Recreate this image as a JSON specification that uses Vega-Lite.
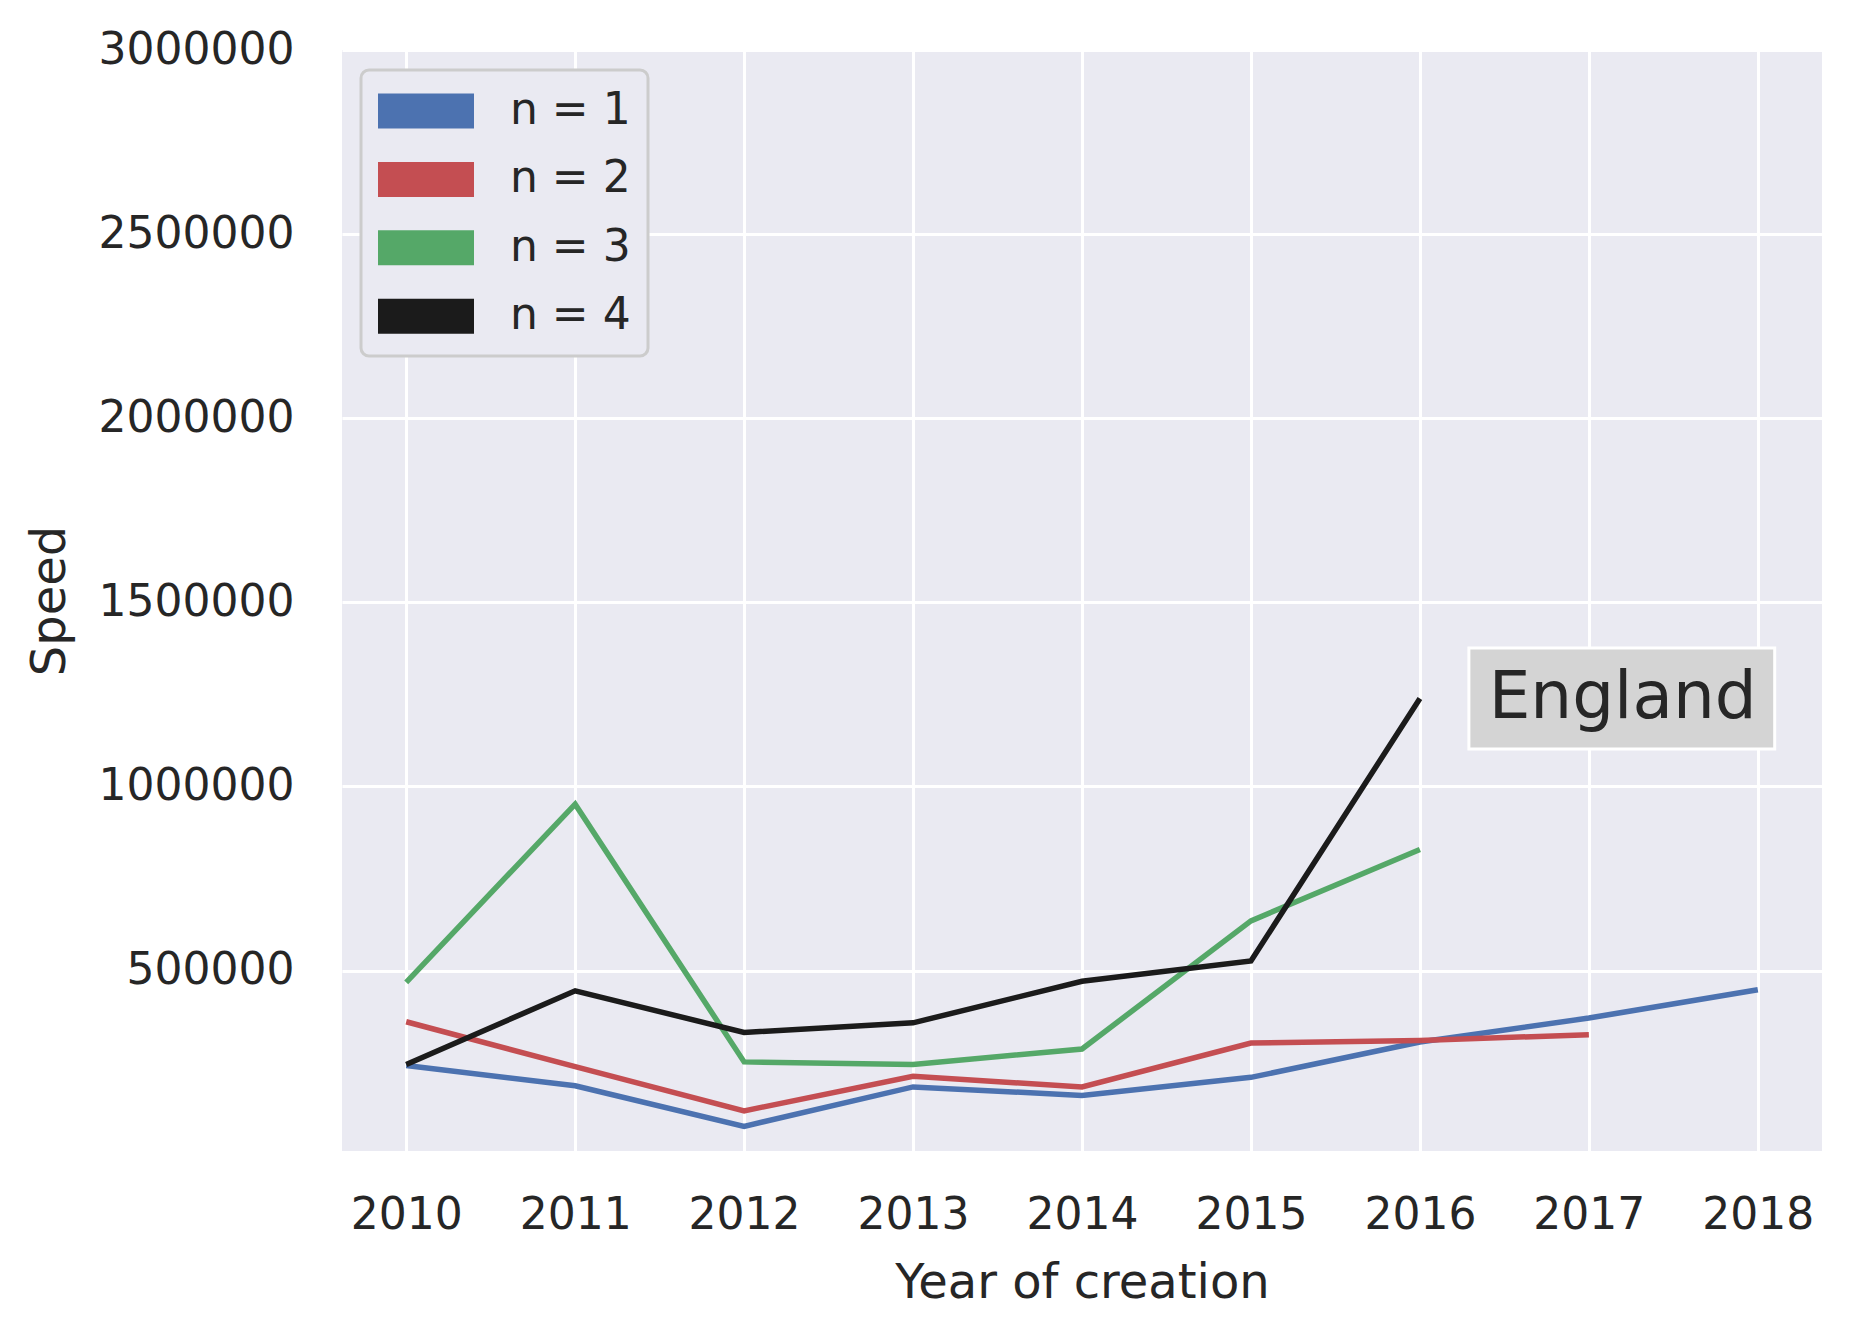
{
  "$schema": "https://vega.github.io/schema/vega-lite/v6.json",
  "autosize": "none",
  "width": 1480,
  "height": 1101,
  "padding": {"left": 342, "top": 50, "right": 40, "bottom": 184},
  "background": "white",
  "datasets": {
    "speed": [
      {"year": 2010, "n": "n = 1", "speed": 242000},
      {"year": 2011, "n": "n = 1", "speed": 187000},
      {"year": 2012, "n": "n = 1", "speed": 77000},
      {"year": 2013, "n": "n = 1", "speed": 184000},
      {"year": 2014, "n": "n = 1", "speed": 161000},
      {"year": 2015, "n": "n = 1", "speed": 210000},
      {"year": 2016, "n": "n = 1", "speed": 306000},
      {"year": 2017, "n": "n = 1", "speed": 371000},
      {"year": 2018, "n": "n = 1", "speed": 448000},
      {"year": 2010, "n": "n = 2", "speed": 361000},
      {"year": 2011, "n": "n = 2", "speed": 239000},
      {"year": 2012, "n": "n = 2", "speed": 119000},
      {"year": 2013, "n": "n = 2", "speed": 213000},
      {"year": 2014, "n": "n = 2", "speed": 184000},
      {"year": 2015, "n": "n = 2", "speed": 303000},
      {"year": 2016, "n": "n = 2", "speed": 310000},
      {"year": 2017, "n": "n = 2", "speed": 326000},
      {"year": 2010, "n": "n = 3", "speed": 468000},
      {"year": 2011, "n": "n = 3", "speed": 952000},
      {"year": 2012, "n": "n = 3", "speed": 252000},
      {"year": 2013, "n": "n = 3", "speed": 245000},
      {"year": 2014, "n": "n = 3", "speed": 287000},
      {"year": 2015, "n": "n = 3", "speed": 635000},
      {"year": 2016, "n": "n = 3", "speed": 829000},
      {"year": 2010, "n": "n = 4", "speed": 245000},
      {"year": 2011, "n": "n = 4", "speed": 445000},
      {"year": 2012, "n": "n = 4", "speed": 332000},
      {"year": 2013, "n": "n = 4", "speed": 358000},
      {"year": 2014, "n": "n = 4", "speed": 471000},
      {"year": 2015, "n": "n = 4", "speed": 526000},
      {"year": 2016, "n": "n = 4", "speed": 1239000}
    ],
    "label": [
      {"text": "England", "x": 2017.2, "y": 1238900, "x1": 2016.29, "x2": 2018.1, "y1": 1101700, "y2": 1376000}
    ]
  },
  "layer": [
    {
      "data": {"name": "speed"},
      "mark": {"type": "line", "strokeWidth": 5.5},
      "encoding": {
        "x": {
          "field": "year",
          "type": "quantitative",
          "title": "Year of creation",
          "scale": {"domain": [2009.62, 2018.38], "nice": false, "zero": false},
          "axis": {
            "values": [2010, 2011, 2012, 2013, 2014, 2015, 2016, 2017, 2018],
            "format": "d",
            "labelPadding": 42,
            "titlePadding": 22
          }
        },
        "y": {
          "field": "speed",
          "type": "quantitative",
          "title": "Speed",
          "scale": {"domain": [10000, 3000000], "nice": false, "zero": false},
          "axis": {
            "values": [500000, 1000000, 1500000, 2000000, 2500000, 3000000],
            "format": "d",
            "labelPadding": 48,
            "labelLimit": 400,
            "titleX": -268
          }
        },
        "color": {
          "field": "n",
          "type": "nominal",
          "title": null,
          "scale": {
            "domain": ["n = 1", "n = 2", "n = 3", "n = 4"],
            "range": ["#4C72B0", "#C44E52", "#55A868", "#1B1B1B"]
          },
          "legend": {
            "orient": "none",
            "legendX": 19,
            "legendY": 20,
            "symbolType": "M-2,-0.73L2,-0.73L2,0.73L-2,0.73Z",
            "symbolSize": 2304,
            "symbolOffset": 24,
            "symbolStrokeWidth": 0,
            "labelOffset": 60,
            "labelFontSize": 44,
            "labelFont": "DejaVu Sans",
            "labelColor": "#262626",
            "rowPadding": 22.4,
            "padding": 17,
            "fillColor": "#EAEAF2",
            "strokeColor": "#CCCCCC",
            "cornerRadius": 8,
            "encode": {
              "legend": {"update": {"strokeWidth": {"value": 3}}},
              "symbols": {
                "update": {
                  "fill": {"scale": "color", "field": "value"},
                  "stroke": {"value": "transparent"},
                  "strokeWidth": {"value": 0}
                }
              }
            }
          }
        }
      }
    },
    {
      "data": {"name": "label"},
      "mark": {"type": "rect", "fill": "#D4D4D4", "stroke": "white", "strokeWidth": 3},
      "encoding": {
        "x": {"field": "x1", "type": "quantitative"},
        "x2": {"field": "x2"},
        "y": {"field": "y1", "type": "quantitative"},
        "y2": {"field": "y2"}
      }
    },
    {
      "data": {"name": "label"},
      "mark": {"type": "text", "fontSize": 66, "font": "DejaVu Sans", "color": "#262626", "align": "center", "baseline": "middle"},
      "encoding": {
        "x": {"field": "x", "type": "quantitative"},
        "y": {"field": "y", "type": "quantitative"},
        "text": {"field": "text"}
      }
    }
  ],
  "config": {
    "font": "DejaVu Sans",
    "view": {"fill": "#EAEAF2", "stroke": null},
    "axis": {
      "domain": false,
      "ticks": false,
      "grid": true,
      "gridColor": "white",
      "gridWidth": 3,
      "labelFont": "DejaVu Sans",
      "labelFontSize": 44,
      "labelColor": "#262626",
      "titleFont": "DejaVu Sans",
      "titleFontSize": 48,
      "titleFontWeight": "normal",
      "titleColor": "#262626",
      "labelFlush": false,
      "labelOverlap": false
    }
  }
}
